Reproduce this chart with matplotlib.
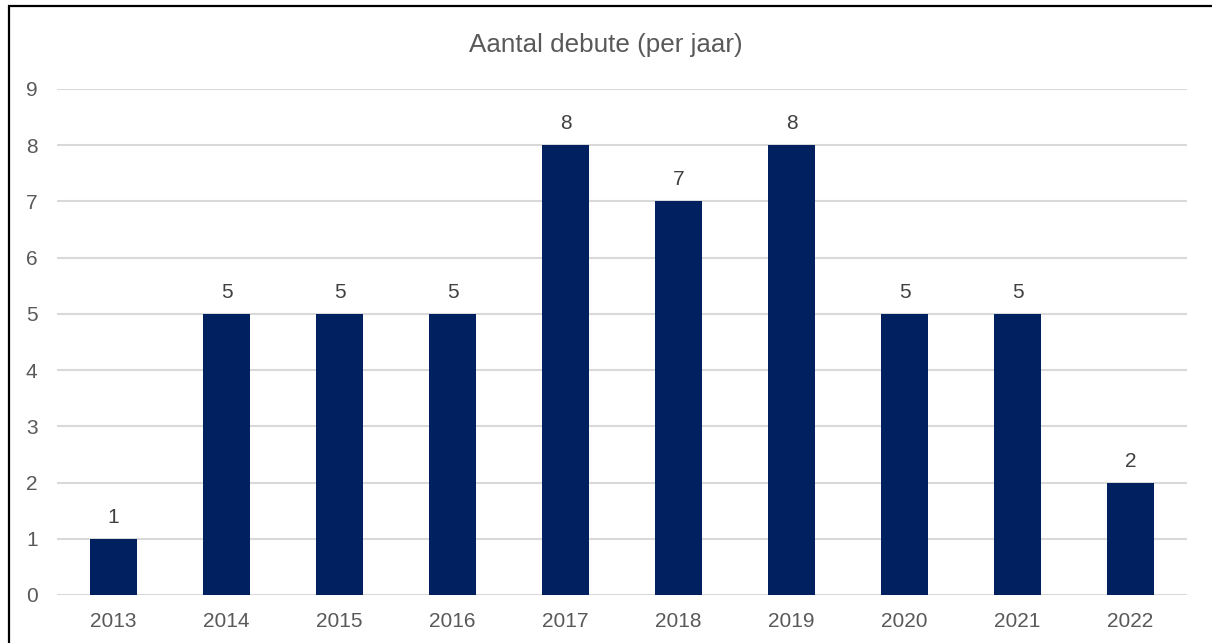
import matplotlib.pyplot as plt
from matplotlib.patches import Rectangle

years = ['2013', '2014', '2015', '2016', '2017', '2018', '2019', '2020', '2021', '2022']
debuts = [1, 5, 5, 5, 8, 7, 8, 5, 5, 2]

plt.rcParams['font.family'] = ['Liberation Sans', 'DejaVu Sans']

W, H = 1212, 643
fig = plt.figure(figsize=(W / 100, H / 100), dpi=100)
ax = fig.add_axes([57 / W, 1 - 595 / H, (1187 - 57) / W, (595 - 89) / H])

x = range(len(years))
bars = ax.bar(x, debuts, width=0.41, color='#002060', zorder=3)
for b, v in zip(bars, debuts):
    ax.text(b.get_x() + b.get_width() / 2, v + 0.285, str(v), ha='center', va='baseline',
            fontsize=15, color='#404040')

ax.set_xlim(-0.5, len(years) - 0.5)
ax.set_ylim(0, 9)
ax.set_yticks(range(10))
ax.set_xticks(list(x))
ax.set_xticklabels(years)
ax.tick_params(length=0, labelsize=15, labelcolor='#595959')
ax.tick_params(axis='y', pad=14)
ax.tick_params(axis='x', pad=12.5)
ax.grid(axis='y', color='#d9d9d9', linewidth=1.5, zorder=0)
for s in ax.spines.values():
    s.set_visible(False)

fig.text(0.5, 1 - 45 / H, 'Aantal debute (per jaar)', ha='center', va='center',
         fontsize=18.7, color='#595959')

# chart frame (only left and top edges visible in the crop)
fig.add_artist(Rectangle((8.5 / W, -0.05), 1.2, 1 - 5.5 / H + 0.05, transform=fig.transFigure,
                         fill=False, edgecolor='black', linewidth=1.6))

fig.savefig('out.png', dpi=100)
